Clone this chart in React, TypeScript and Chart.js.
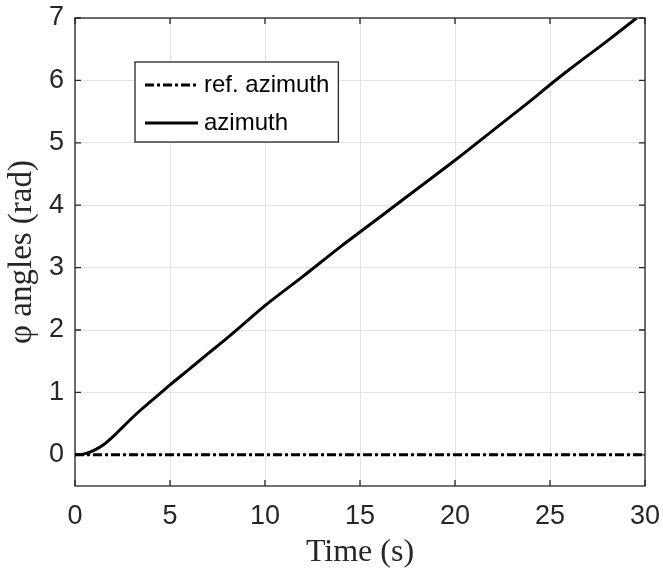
import React, { useEffect, useRef } from "react";
import { Chart, registerables } from "chart.js";

Chart.register(...registerables);

// ---- data ----
const timeRef = [0, 30];
const refAzimuth = [0, 0];

const timeAz = [0, 0.5, 1, 1.5, 2, 2.5, 3, 3.5, 4, 4.5, 5, 6, 7, 8, 9, 10, 12, 14, 15, 16, 18, 20, 22, 24, 25, 26, 28, 29.56];
const azimuth = [0, 0.015, 0.07, 0.16, 0.29, 0.44, 0.59, 0.73, 0.86, 0.99, 1.12, 1.37, 1.62, 1.87, 2.13, 2.39, 2.86, 3.34, 3.57, 3.8, 4.26, 4.72, 5.2, 5.68, 5.93, 6.17, 6.63, 7.0];

const xTicks = [0, 5, 10, 15, 20, 25, 30];
const yTicks = [0, 1, 2, 3, 4, 5, 6, 7];
const seriesLabels = ["ref. azimuth", "azimuth"];
const xTitle = "Time (s)";
const yTitle = "\u03C6 angles (rad)";

const AXIS_COLOR = "#262626";
const GRID_COLOR = "#e3e3e3";
const TICK_FONT = "Liberation Sans, Arial, Helvetica, sans-serif";
const TITLE_FONT = "Liberation Serif, Times New Roman, serif";
const DASH_DOT = [9, 3, 3, 3];

const boxPlugin = {
  id: "boxPlugin",
  beforeDatasetsDraw(chart: any) {
    const { ctx, chartArea: a, scales } = chart;
    ctx.save();
    ctx.strokeStyle = AXIS_COLOR;
    ctx.lineWidth = 1.3;
    ctx.strokeRect(a.left, a.top, a.right - a.left, a.bottom - a.top);
    const tl = 6;
    ctx.beginPath();
    for (const t of scales.x.ticks) {
      const px = scales.x.getPixelForValue(t.value);
      ctx.moveTo(px, a.bottom);
      ctx.lineTo(px, a.bottom - tl);
      ctx.moveTo(px, a.top);
      ctx.lineTo(px, a.top + tl);
    }
    for (const t of scales.y.ticks) {
      const py = scales.y.getPixelForValue(t.value);
      ctx.moveTo(a.left, py);
      ctx.lineTo(a.left + tl, py);
      ctx.moveTo(a.right, py);
      ctx.lineTo(a.right - tl, py);
    }
    ctx.stroke();
    ctx.restore();
  },
};

const legendPlugin = {
  id: "legendPlugin",
  afterDraw(chart: any) {
    const { ctx, chartArea: a } = chart;
    const ds = chart.data.datasets;
    ctx.save();
    ctx.font = "24px " + TICK_FONT;
    const sampleLen = 53;
    const padL = 10;
    const gap = 6;
    const padR = 9;
    const rowH = 38;
    let maxW = 0;
    for (const d of ds) maxW = Math.max(maxW, ctx.measureText(d.label).width);
    const x0 = a.left + 60;
    const y0 = a.top + 44;
    const w = padL + sampleLen + gap + maxW + padR;
    const h = 80;
    ctx.fillStyle = "#ffffff";
    ctx.fillRect(x0, y0, w, h);
    ctx.strokeStyle = AXIS_COLOR;
    ctx.lineWidth = 1.3;
    ctx.strokeRect(x0, y0, w, h);
    ds.forEach((d: any, i: number) => {
      const cy = y0 + 23 + i * rowH;
      ctx.beginPath();
      ctx.setLineDash(d.borderDash || []);
      ctx.strokeStyle = d.borderColor;
      ctx.lineWidth = d.borderWidth;
      ctx.moveTo(x0 + padL, cy);
      ctx.lineTo(x0 + padL + sampleLen, cy);
      ctx.stroke();
      ctx.setLineDash([]);
      ctx.fillStyle = "#000000";
      ctx.textBaseline = "middle";
      ctx.textAlign = "left";
      ctx.fillText(d.label, x0 + padL + sampleLen + gap, cy);
    });
    ctx.restore();
  },
};

export default function App() {
  const ref = useRef<HTMLCanvasElement | null>(null);
  useEffect(() => {
    if (!ref.current) return;
    const chart = new Chart(ref.current, {
      type: "line",
      data: {
        datasets: [
          {
            label: seriesLabels[0],
            data: timeRef.map((t, i) => ({ x: t, y: refAzimuth[i] })),
            borderColor: "#000000",
            borderWidth: 3,
            borderDash: DASH_DOT,
            pointRadius: 0,
            fill: false,
          },
          {
            label: seriesLabels[1],
            data: timeAz.map((t, i) => ({ x: t, y: azimuth[i] })),
            borderColor: "#000000",
            borderWidth: 3,
            pointRadius: 0,
            cubicInterpolationMode: "monotone",
            fill: false,
          },
        ],
      },
      options: {
        animation: false,
        responsive: false,
        layout: { padding: { top: 18, right: 18, left: 0, bottom: 0 } },
        plugins: { legend: { display: false }, tooltip: { enabled: false } },
        scales: {
          x: {
            type: "linear",
            min: 0,
            max: 30,
            afterBuildTicks: (s: any) => {
              s.ticks = xTicks.map((v) => ({ value: v }));
            },
            afterFit: (s: any) => {
              s.height = 92;
              s.paddingLeft = 0;
              s.paddingRight = 0;
            },
            grid: { color: GRID_COLOR, drawTicks: false, lineWidth: 1 },
            border: { display: false },
            ticks: {
              color: AXIS_COLOR,
              font: { family: TICK_FONT, size: 27 },
              padding: 14,
              maxRotation: 0,
            },
            title: {
              display: true,
              text: xTitle,
              color: AXIS_COLOR,
              font: { family: TITLE_FONT, size: 32 },
              padding: { top: 0, bottom: 6 },
            },
          },
          y: {
            type: "linear",
            min: -0.5,
            max: 7,
            afterBuildTicks: (s: any) => {
              s.ticks = yTicks.map((v) => ({ value: v }));
            },
            afterFit: (s: any) => {
              s.width = 75;
              s.paddingTop = 0;
              s.paddingBottom = 0;
            },
            grid: { color: GRID_COLOR, drawTicks: false, lineWidth: 1 },
            border: { display: false },
            ticks: {
              color: AXIS_COLOR,
              font: { family: TICK_FONT, size: 27 },
              padding: 11,
            },
            title: {
              display: true,
              text: yTitle,
              color: AXIS_COLOR,
              font: { family: TITLE_FONT, size: 33 },
              padding: { top: 3, bottom: 0 },
            },
          },
        },
      },
      plugins: [boxPlugin, legendPlugin],
    } as any);
    return () => chart.destroy();
  }, []);
  return (
    <div style={{ position: "absolute", left: 0, top: 0, width: 663, height: 578, background: "#ffffff" }}>
      <canvas ref={ref} width={663} height={578} style={{ width: 663, height: 578, display: "block" }} />
    </div>
  );
}
